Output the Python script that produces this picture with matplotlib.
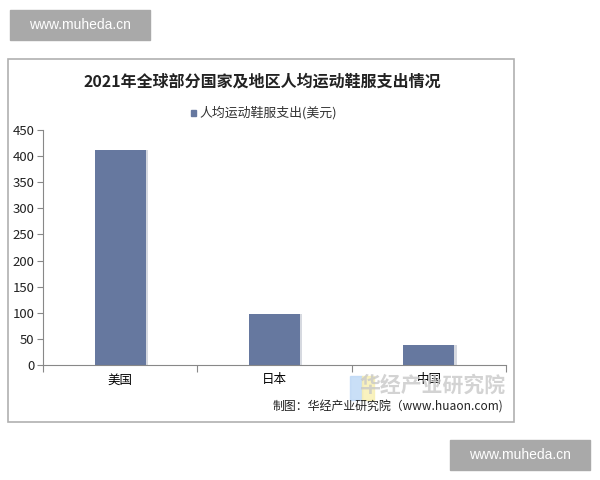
import matplotlib.pyplot as plt
from matplotlib.patches import Rectangle

plt.rcParams['font.family'] = ['Noto Sans CJK SC', 'DejaVu Sans']

countries = ['美国', '日本', '中国']
spending = [411, 98, 39]
yticks = [0, 50, 100, 150, 200, 250, 300, 350, 400, 450]

fig = plt.figure(figsize=(6, 4.8), dpi=100)
W, H = 600, 480

# chart frame
fig.patches.append(Rectangle((8 / W, 1 - 422 / H), 506 / W, 363 / H, transform=fig.transFigure,
                             fill=False, edgecolor='#b0b0b0', linewidth=1.2))

ax = fig.add_axes([43 / W, 1 - 365 / H, 463 / W, 235 / H])
x = list(range(len(countries)))
# soft shadow to the right of each bar
ax.bar([i + 0.015 for i in x], spending, width=0.33, color='#d6d9e0', zorder=1)
ax.bar(x, spending, width=0.33, color='#66789f', zorder=2)

ax.set_xlim(-0.5, 2.5)
ax.set_ylim(0, 450)
ax.set_yticks(yticks)
ax.tick_params(axis='y', labelsize=9.5, length=4, color='#888888', labelcolor='#222222', pad=2)
ax.set_xticks([-0.5, 0.5, 1.5, 2.5])
ax.set_xticklabels([])
ax.set_xticks(x, minor=True)
ax.set_xticklabels(countries, minor=True, fontsize=9)
ax.tick_params(axis='x', which='major', length=5, color='#888888')
ax.tick_params(axis='x', which='minor', length=0, pad=6)
for s in ['top', 'right']:
    ax.spines[s].set_visible(False)
for s in ['left', 'bottom']:
    ax.spines[s].set_color('#888888')

fig.text(262 / W, 1 - 82 / H, '2021年全球部分国家及地区人均运动鞋服支出情况', ha='center', va='center',
         fontsize=11.5, fontweight='bold', color='#222222')

# legend
fig.patches.append(Rectangle((191 / W, 1 - 116 / H), 5 / W, 6 / H, transform=fig.transFigure,
                             color='#66789f'))
fig.text(199 / W, 1 - 113 / H, '人均运动鞋服支出(美元)', ha='left', va='center', fontsize=9.3, color='#333333')

# watermark logo and text
fig.patches.append(Rectangle((350 / W, 1 - 400 / H), 12 / W, 24 / H, transform=fig.transFigure,
                             color='#bcd7f5', alpha=0.8))
fig.patches.append(Rectangle((362 / W, 1 - 400 / H), 12 / W, 24 / H, transform=fig.transFigure,
                             color='#f8efb0', alpha=0.8))
fig.text(505 / W, 1 - 385 / H, '华经产业研究院', ha='right', va='center', fontsize=15,
         fontweight='bold', color='#c8c8c8', alpha=0.8)

fig.text(503 / W, 1 - 407 / H, '制图：华经产业研究院（www.huaon.com)', ha='right', va='center',
         fontsize=8.6, color='#222222')

# site watermarks
for (x0, y0) in [(10, 10), (450, 440)]:
    fig.patches.append(Rectangle((x0 / W, 1 - (y0 + 30) / H), 140 / W, 30 / H,
                                 transform=fig.transFigure, color='#a9a9a9'))
    fig.text((x0 + 70) / W, 1 - (y0 + 15) / H, 'www.muheda.cn', ha='center', va='center',
             fontsize=10, color='white', family='Liberation Sans')

plt.savefig('out.png', dpi=100)
